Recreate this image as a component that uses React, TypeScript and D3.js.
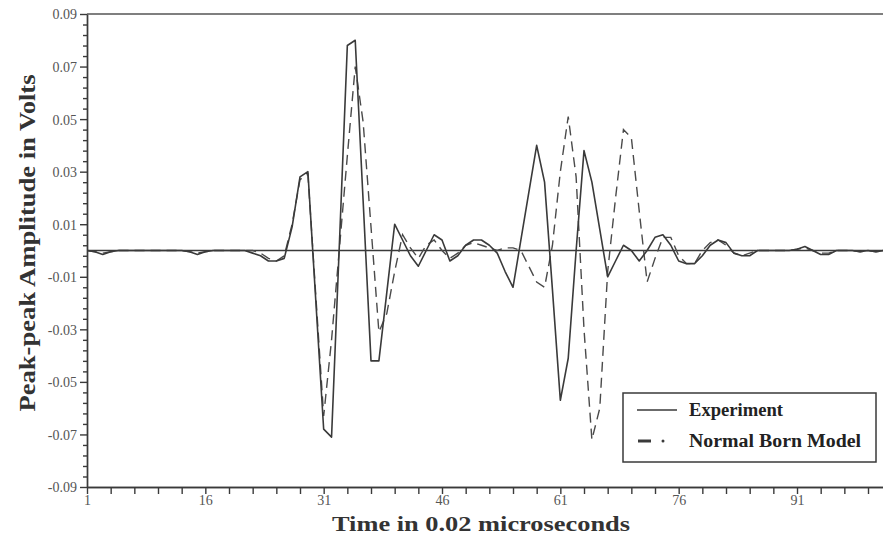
import * as d3 from 'd3';
import { useEffect, useRef } from 'react';

// peak-peak amplitude (V) per time step, starting at step 1
const experiment = [
  0, -0.0005, -0.0015, -0.0005, 0, 0, 0, 0, 0, 0,
  0, 0, 0, -0.0005, -0.0015, -0.0005, 0, 0, 0, 0,
  0, -0.001, -0.002, -0.004, -0.004, -0.003, 0.009, 0.028, 0.030, -0.019,
  -0.068, -0.071, 0.003, 0.078, 0.080, 0.019, -0.042, -0.042, -0.016, 0.010,
  0.004, -0.002, -0.006, 0.000, 0.006, 0.004, -0.004, -0.002, 0.002, 0.004,
  0.004, 0.002, -0.001, -0.008, -0.014, 0.004, 0.022, 0.040, 0.026, -0.015,
  -0.057, -0.041, 0.000, 0.038, 0.026, 0.008, -0.010, -0.004, 0.002, 0.000,
  -0.004, 0.000, 0.005, 0.006, 0.002, -0.004, -0.005, -0.005, -0.002, 0.002,
  0.004, 0.003, -0.001, -0.002, -0.002, 0, 0, 0, 0, 0,
  0.0005, 0.0015, 0, -0.0015, -0.0015, 0, 0, 0, -0.0005, 0,
  -0.0005, 0
];

const bornModel = [
  0, -0.0005, -0.001, -0.0005, 0, 0, 0, 0, 0, 0,
  0, 0, 0, -0.0005, -0.001, -0.0005, 0, 0, 0, 0,
  0, 0, -0.001, -0.003, -0.004, -0.002, 0.010, 0.027, 0.029, -0.017,
  -0.063, -0.034, 0.001, 0.036, 0.070, 0.049, 0.009, -0.031, -0.024, -0.008,
  0.006, 0.001, -0.003, 0.002, 0.004, 0.000, -0.003, -0.001, 0.002, 0.003,
  0.002, 0.001, 0.000, 0.001, 0.001, 0.000, -0.006, -0.012, -0.014, 0.002,
  0.030, 0.051, 0.028, -0.030, -0.072, -0.060, -0.008, 0.020, 0.046, 0.043,
  0.015, -0.012, -0.003, 0.005, 0.005, -0.002, -0.005, -0.005, 0.000, 0.003,
  0.004, 0.002, -0.001, -0.002, -0.001, 0, 0, 0, 0, 0,
  0.0005, 0.001, 0, -0.001, -0.001, 0, 0, 0, -0.0005, 0,
  -0.0005, 0
];

const xTickLabels = [1, 16, 31, 46, 61, 76, 91];
const yTickLabels = [-0.09, -0.07, -0.05, -0.03, -0.01, 0.01, 0.03, 0.05, 0.07, 0.09];

const seriesNames = ['Experiment', 'Normal Born Model'];

export default function App() {
  const svgRef = useRef<SVGSVGElement>(null);

  useEffect(() => {
    if (svgRef.current) drawChart(svgRef.current);
  }, []);

  return (
    <div style={{ position: 'absolute', left: 0, top: 0 }}>
      <svg ref={svgRef}></svg>
    </div>
  );
}

function drawChart(el: SVGSVGElement) {
  const w = 883;
  const h = 539;
  const left = 87;
  const right = 883;
  const top = 14;
  const bottom = 487;
  const ink = '#3a3a3a';
  const serif = '"Liberation Serif", "Times New Roman", serif';

  const svg = d3.select(el).attr('width', w).attr('height', h).style('display', 'block');
  svg.selectAll('*').remove();
  svg.append('rect').attr('width', w).attr('height', h).attr('fill', '#fff');

  const xScale = d3.scaleLinear().domain([1, 101.9]).range([left, right]);
  const yScale = d3.scaleLinear().domain([-0.09, 0.09]).range([bottom, top]);

  // minor ticks
  const xMinor = d3.range(1, 102, 3).filter(v => !xTickLabels.includes(v));
  const yMinor = d3.range(-0.09, 0.0901, 0.004).filter(v => !yTickLabels.some(t => Math.abs(t - v) < 1e-6));

  const yAxis = svg.append('g').attr('transform', `translate(${left},0)`)
    .call(d3.axisLeft(yScale).tickValues(yTickLabels).tickSize(7).tickSizeOuter(0).tickPadding(3)
      .tickFormat(d => (+d).toFixed(2)));
  svg.append('g').attr('transform', `translate(${left},0)`)
    .call(d3.axisLeft(yScale).tickValues(yMinor).tickSize(4).tickSizeOuter(0).tickFormat(() => ''));

  const xAxis = svg.append('g').attr('transform', `translate(0,${bottom})`)
    .call(d3.axisBottom(xScale).tickValues(xTickLabels).tickSize(7).tickSizeOuter(0).tickPadding(3)
      .tickFormat(d => String(d)));
  svg.append('g').attr('transform', `translate(0,${bottom})`)
    .call(d3.axisBottom(xScale).tickValues(xMinor).tickSize(7).tickSizeOuter(0).tickFormat(() => ''));

  svg.selectAll('.domain, .tick line').attr('stroke', ink).attr('stroke-width', 1.4);
  svg.selectAll('.tick text').attr('fill', '#555').style('font-family', serif).style('font-size', '14px');
  yAxis.selectAll('.tick text').attr('dy', '0.35em');
  xAxis.selectAll('.tick text').attr('dy', '0.6em');

  // top frame line
  svg.append('line')
    .attr('x1', left).attr('x2', right)
    .attr('y1', top).attr('y2', top)
    .attr('stroke', '#555').attr('stroke-width', 1.6);

  // zero line
  svg.append('line')
    .attr('x1', left).attr('x2', right)
    .attr('y1', yScale(0)).attr('y2', yScale(0))
    .attr('stroke', ink).attr('stroke-width', 1.4);

  svg.append('clipPath').attr('id', 'plot-clip')
    .append('rect').attr('x', left).attr('y', 0).attr('width', right - left).attr('height', h);

  const line = d3.line<number>()
    .x((_, i) => xScale(i + 1))
    .y(d => yScale(d));

  const plot = svg.append('g').attr('clip-path', 'url(#plot-clip)');

  plot.append('path')
    .datum(bornModel)
    .attr('d', line)
    .attr('fill', 'none')
    .attr('stroke', '#4a4a4a')
    .attr('stroke-width', 1.4)
    .attr('stroke-dasharray', '10,6');

  plot.append('path')
    .datum(experiment)
    .attr('d', line)
    .attr('fill', 'none')
    .attr('stroke', ink)
    .attr('stroke-width', 1.6)
    .attr('stroke-linejoin', 'round');

  // legend
  const lg = svg.append('g').attr('transform', 'translate(623,393)');
  lg.append('rect').attr('width', 253).attr('height', 69)
    .attr('fill', '#fff').attr('stroke', ink).attr('stroke-width', 1.5);
  lg.append('line').attr('x1', 14).attr('x2', 54).attr('y1', 17).attr('y2', 17)
    .attr('stroke', ink).attr('stroke-width', 1.4);
  lg.append('line').attr('x1', 15).attr('x2', 28).attr('y1', 48).attr('y2', 48)
    .attr('stroke', ink).attr('stroke-width', 3);
  lg.append('circle').attr('cx', 40).attr('cy', 48).attr('r', 1.5).attr('fill', ink);
  const legendWidths = [94, 172];
  lg.selectAll('text.lab')
    .data(seriesNames)
    .enter()
    .append('text')
    .attr('class', 'lab')
    .attr('x', 66)
    .attr('y', (_, i) => 23 + i * 31)
    .attr('fill', '#222')
    .attr('textLength', (_, i) => legendWidths[i])
    .attr('lengthAdjust', 'spacingAndGlyphs')
    .style('font-family', serif)
    .style('font-weight', 'bold')
    .style('font-size', '18px')
    .text(d => d);

  // axis titles
  svg.append('text')
    .attr('x', 481).attr('y', 531)
    .attr('text-anchor', 'middle')
    .attr('fill', '#333')
    .attr('textLength', 298)
    .attr('lengthAdjust', 'spacingAndGlyphs')
    .style('font-family', serif)
    .style('font-weight', 'bold')
    .style('font-size', '21px')
    .text('Time in 0.02 microseconds');

  svg.append('text')
    .attr('transform', 'translate(35,243) rotate(-90)')
    .attr('text-anchor', 'middle')
    .attr('fill', '#333')
    .attr('textLength', 337)
    .attr('lengthAdjust', 'spacingAndGlyphs')
    .style('font-family', serif)
    .style('font-weight', 'bold')
    .style('font-size', '24px')
    .text('Peak-peak Amplitude in Volts');
}
